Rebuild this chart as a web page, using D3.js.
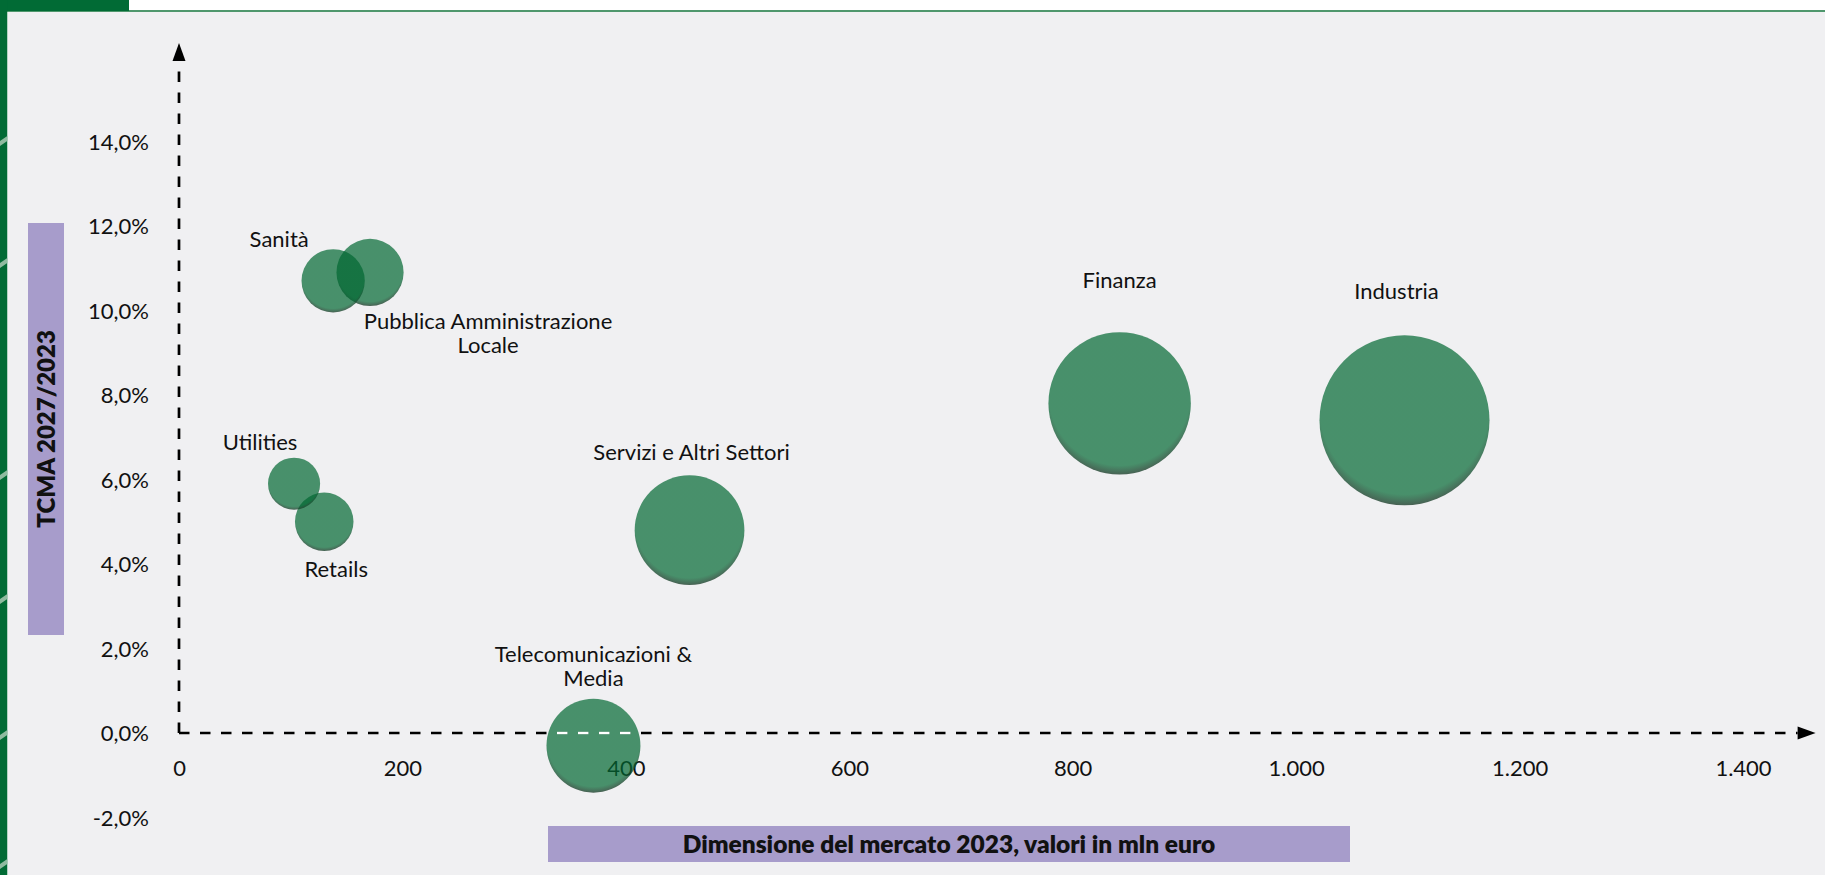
<!DOCTYPE html>
<html>
<head>
<meta charset="utf-8">
<script src="https://cdn.jsdelivr.net/npm/d3@7"></script>
<style>
  body { margin: 0; background: #ffffff; }
  svg { display: block; font-family: Lato, "Noto Sans", sans-serif; }
</style>
</head>
<body>
<svg id="chart" width="1825" height="875"></svg>
<script>
// Sectors, 2023 market size (mln euro), CAGR 2027/2023 (%) and bubble size
const sectors = [
  "Industria",
  "Finanza",
  "Servizi e Altri Settori",
  "Telecomunicazioni & Media",
  "Pubblica Amministrazione Locale",
  "Sanità",
  "Retails",
  "Utilities"
];
const marketSize2023 = [1097, 842, 457, 371, 171, 138, 130, 103];
const cagr2027 = [7.4, 7.8, 4.8, -0.3, 10.9, 10.7, 5.0, 5.9];
const bubbleSize = [1097, 770, 457, 335, 171, 152, 130, 103];

// Label text, split over lines
const labelLines = [
  ["Industria"],
  ["Finanza"],
  ["Servizi e Altri Settori"],
  ["Telecomunicazioni &", "Media"],
  ["Pubblica Amministrazione", "Locale"],
  ["Sanità"],
  ["Retails"],
  ["Utilities"]
];

const xTicks = [0, 200, 400, 600, 800, 1000, 1200, 1400];
const yTicks = [-2, 0, 2, 4, 6, 8, 10, 12, 14];

const xTitle = "Dimensione del mercato 2023, valori in mln euro";
const yTitle = "TCMA 2027/2023";

// Label offsets from the bubble centre (px)
const labelOffset = {
  "Industria": [-8, -129],
  "Finanza": [0, -123],
  "Servizi e Altri Settori": [2, -78],
  "Telecomunicazioni & Media": [0, -92],
  "Pubblica Amministrazione Locale": [118, 49],
  "Sanità": [-54, -42],
  "Retails": [12, 47],
  "Utilities": [-34, -42]
};

const W = 1825, H = 875;
const svg = d3.select("#chart");

const it = d3.formatLocale({
  decimal: ",", thousands: ".", grouping: [3], currency: ["", " €"], minus: "-"
});
const fmtX = it.format(",.0f");
const fmtY = v => it.format(".1f")(v) + "%";

// Page frame
svg.append("rect").attr("x", 0).attr("y", 0).attr("width", W).attr("height", H).attr("fill", "#ffffff");
svg.append("rect").attr("x", 8).attr("y", 12).attr("width", W - 8).attr("height", H - 12).attr("fill", "#f0f0f2");
svg.append("rect").attr("x", 0).attr("y", 10).attr("width", W).attr("height", 2).attr("fill", "#4f976d");
svg.append("rect").attr("x", 0).attr("y", 0).attr("width", 129).attr("height", 11).attr("fill", "#016b35");
svg.append("rect").attr("x", 0).attr("y", 0).attr("width", 7.3).attr("height", H).attr("fill", "#016b35");
const notchY = [139, 261, 473, 597, 733, 862];
svg.append("g").selectAll("path").data(notchY).join("path")
  .attr("d", y => `M0,${y + 2} L7.3,${y - 3} L7.3,${y + 2} L0,${y + 7} Z`)
  .attr("fill", "#8fbba0");

// Scales
const x = d3.scaleLinear().domain([0, 1400]).range([179, 1743]);
const y = d3.scaleLinear().domain([0, 14]).range([733, 141.4]);
const r = d3.scaleSqrt().domain([0, 1097]).range([0, 85]);

const x0 = x(0), y0 = y(0);
const xEnd = x(1465), yEnd = y(16.33);

// Bubble fill: translucent green with a darker lower rim
const defs = svg.append("defs");
const grad = defs.append("radialGradient").attr("id", "bubbleFill")
  .attr("cx", 0.5).attr("cy", 0.44).attr("r", 0.57).attr("fx", 0.5).attr("fy", 0.44);
grad.append("stop").attr("offset", 0).attr("stop-color", "#006731").attr("stop-opacity", 0.7);
grad.append("stop").attr("offset", 0.87).attr("stop-color", "#006731").attr("stop-opacity", 0.7);
grad.append("stop").attr("offset", 1).attr("stop-color", "#24382c").attr("stop-opacity", 0.82);

const data = sectors.map((s, i) => ({
  name: s, x: marketSize2023[i], y: cagr2027[i], size: bubbleSize[i], lines: labelLines[i]
}));

// Axes: dashed lines with arrow heads
const axisG = svg.append("g");
axisG.append("line")
  .attr("x1", x0).attr("y1", y0).attr("x2", x0).attr("y2", yEnd + 18)
  .attr("stroke", "#000").attr("stroke-width", 2.7).attr("stroke-dasharray", "10.5,10.5");
axisG.append("line")
  .attr("x1", x0).attr("y1", y0).attr("x2", xEnd - 18).attr("y2", y0)
  .attr("stroke", "#000").attr("stroke-width", 2.7).attr("stroke-dasharray", "10.5,10.5");
axisG.append("path")
  .attr("d", `M${x0},${yEnd} L${x0 - 6.5},${yEnd + 18} L${x0 + 6.5},${yEnd + 18} Z`).attr("fill", "#000");
axisG.append("path")
  .attr("d", `M${xEnd},${y0} L${xEnd - 18},${y0 - 6.5} L${xEnd - 18},${y0 + 6.5} Z`).attr("fill", "#000");

// Tick labels
const xAxis = svg.append("g").attr("transform", "translate(0,768)")
  .call(d3.axisBottom(x).tickValues(xTicks).tickFormat(fmtX).tickSize(0).tickPadding(0));
xAxis.select(".domain").remove();
xAxis.selectAll("text").attr("y", 0).attr("dy", "0.36em");

const yAxis = svg.append("g").attr("transform", "translate(149,0)")
  .call(d3.axisLeft(y).tickValues(yTicks).tickFormat(fmtY).tickSize(0).tickPadding(0));
yAxis.select(".domain").remove();
yAxis.selectAll("text").attr("dy", "0.36em");

svg.selectAll(".tick text")
  .attr("font-family", "Lato, 'Noto Sans', sans-serif")
  .attr("font-size", 22).attr("fill", "#111");

// Bubbles
const bubbles = svg.append("g");
bubbles.selectAll("circle").data(data).join("circle")
  .attr("cx", d => x(d.x)).attr("cy", d => y(d.y)).attr("r", d => r(d.size))
  .attr("fill", "url(#bubbleFill)");

// Axis dashes seen through the bubbles show up light
const clip = defs.append("clipPath").attr("id", "bubbleClip");
clip.selectAll("circle").data(data).join("circle")
  .attr("cx", d => x(d.x)).attr("cy", d => y(d.y)).attr("r", d => r(d.size) - 3);
svg.append("line").attr("clip-path", "url(#bubbleClip)")
  .attr("x1", x0).attr("y1", y0).attr("x2", xEnd - 18).attr("y2", y0)
  .attr("stroke", "#ffffff").attr("stroke-width", 2.7).attr("stroke-dasharray", "10.5,10.5");

// Bubble labels
const labels = svg.append("g").attr("font-size", 22).attr("fill", "#111").attr("text-anchor", "middle");
data.forEach(d => {
  const [dx, dy] = labelOffset[d.name];
  const t = labels.append("text")
    .attr("x", x(d.x) + dx).attr("y", y(d.y) + dy);
  d.lines.forEach((line, k) => {
    t.append("tspan").attr("x", x(d.x) + dx).attr("dy", k === 0 ? "0.36em" : 24).text(line);
  });
});

// Axis titles on lavender bands
svg.append("rect").attr("x", 548).attr("y", 826).attr("width", 802).attr("height", 36).attr("fill", "#a79ccb");
svg.append("text").attr("x", 949).attr("y", 844).attr("dy", "0.36em")
  .attr("text-anchor", "middle").attr("font-weight", 800).attr("font-size", 24.5).attr("fill", "#111")
  .text(xTitle);

svg.append("rect").attr("x", 28).attr("y", 223).attr("width", 36).attr("height", 412).attr("fill", "#a79ccb");
svg.append("text").attr("transform", "translate(46,429) rotate(-90)").attr("dy", "0.36em")
  .attr("text-anchor", "middle").attr("font-weight", 800).attr("font-size", 24).attr("fill", "#111")
  .text(yTitle);
</script>
</body>
</html>
